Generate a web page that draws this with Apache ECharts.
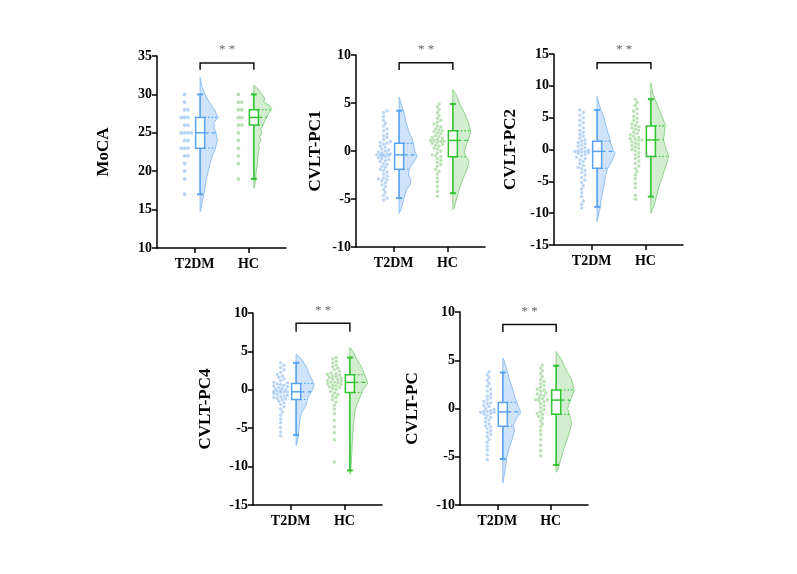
<!DOCTYPE html>
<html>
<head>
<meta charset="utf-8">
<script src="https://cdn.jsdelivr.net/npm/echarts@6/dist/echarts.min.js"></script>
<style>
  html, body { margin: 0; background: #fff; }
  #chart { width: 797px; height: 574px; }
</style>
</head>
<body>
<div id="chart"></div>
<script>
// groups and panels
const groups = ['T2DM', 'HC'];
const panelNames = ['MoCA', 'CVLT-PC1', 'CVLT-PC2', 'CVLT-PC4', 'CVLT-PC'];
const yMin = [10, -10, -15, -15, -10];
const yMax = [35, 10, 15, 10, 10];

// box stats [min, q1, median, q3, max]
const boxT2DM = [[17, 23, 25, 27, 30], [-4.9, -1.9, -0.4, 0.8, 4.2], [-9.0, -2.95, -0.3, 1.3, 6.2], [-5.9, -1.26, -0.26, 0.83, 3.5], [-5.23, -1.85, -0.35, 0.63, 3.73]];
const boxHC = [[19, 26, 27, 28, 30], [-4.4, -0.6, 1.1, 2.1, 4.9], [-7.4, -1.1, 1.5, 3.7, 7.9], [-10.5, -0.35, 0.96, 1.96, 4.2], [-5.85, -0.6, 0.87, 1.92, 4.43]];

// significance bracket [top, leg end]
const sigBracket = [[34.1, 33.2], [9.2, 8.44], [13.63, 12.6], [8.66, 7.56], [8.71, 7.94]];
const sigLabel = '* *';

// half violin shapes [value, relative density]
const violinT2DM = [
  [[32.2,0],[31,0.1],[30,0.28],[29,0.5],[28,0.8],[27,1.0],[26.3,0.75],[25.5,0.8],[25,0.88],[24,0.95],[23,0.85],[22,0.68],[21,0.55],[20,0.45],[19,0.35],[18,0.28],[17,0.2],[16,0.12],[15,0.04],[14.7,0]],
  [[5.6,0],[5,0.1],[4,0.27],[3,0.38],[2,0.55],[1,0.77],[0,0.87],[-0.5,1.0],[-1,0.87],[-1.5,0.67],[-2,0.54],[-2.5,0.52],[-3,0.66],[-3.5,0.62],[-4,0.42],[-5,0.25],[-6,0.12],[-6.5,0]],
  [[8.3,0],[7,0.12],[6,0.25],[5,0.38],[3,0.56],[2,0.68],[1,0.76],[0,0.87],[-0.5,1.0],[-1,0.95],[-2,0.78],[-3,0.58],[-4,0.48],[-5,0.42],[-6,0.35],[-7,0.28],[-8,0.22],[-9,0.18],[-10,0.1],[-11.3,0]],
  [[4.65,0],[4,0.3],[3,0.56],[2,0.74],[1,0.95],[0.7,1.0],[0,0.91],[-1,0.65],[-1.5,0.6],[-2,0.56],[-3,0.3],[-4,0.21],[-5,0.16],[-6,0.12],[-7,0.05],[-7.3,0]],
  [[5.2,0],[5,0.07],[4,0.22],[3,0.37],[2,0.55],[1,0.7],[0,0.91],[-0.4,1.0],[-1,0.77],[-1.7,0.58],[-2.3,0.64],[-3,0.55],[-4,0.37],[-5,0.22],[-6,0.15],[-7,0.07],[-7.7,0]]
];
const violinHC = [
  [[31.2,0],[30.5,0.3],[30,0.45],[29.5,0.6],[29,0.55],[28.5,0.9],[28,1.0],[27.5,0.8],[27,0.72],[26.5,0.6],[26,0.5],[25.5,0.38],[25,0.45],[24.5,0.32],[24,0.38],[23.5,0.26],[23,0.3],[22,0.22],[21,0.2],[20,0.13],[19,0.1],[18,0.04],[17.8,0]],
  [[6.4,0],[6,0.15],[5,0.36],[4,0.63],[3,0.86],[2,1.0],[1,0.82],[0,0.63],[-0.5,0.7],[-1,0.9],[-1.5,0.85],[-2,0.76],[-3,0.54],[-4,0.35],[-5,0.2],[-6,0.06],[-6.1,0]],
  [[10.4,0],[8.8,0.1],[6.7,0.4],[5,0.65],[3.85,0.8],[2.5,0.75],[1.5,0.7],[0,0.85],[-1.1,1.0],[-2.5,0.85],[-3.7,0.7],[-5,0.55],[-6.4,0.4],[-8,0.25],[-9,0.16],[-10,0]],
  [[5.5,0],[5,0.18],[4,0.37],[3,0.64],[2,0.82],[1,0.98],[0.9,1.0],[0,0.73],[-1,0.55],[-2,0.37],[-3,0.27],[-4,0.22],[-5,0.18],[-7,0.13],[-9,0.09],[-10.5,0.05],[-11,0]],
  [[5.9,0],[5,0.31],[4,0.55],[3,0.86],[1.9,1.0],[1,0.82],[0,0.64],[-0.6,0.73],[-1.5,0.86],[-2.5,0.73],[-3.5,0.55],[-4.5,0.37],[-5.5,0.22],[-6.3,0.09],[-6.6,0]]
];

// individual points
const mocaLevels = [30, 29, 28, 27, 26, 25, 24, 23, 22, 21, 20, 19, 18, 17];
const mocaT2DMCounts = [1, 1, 2, 3, 2, 4, 2, 3, 2, 1, 1, 1, 0, 1];
const mocaHCCounts = [1, 2, 2, 2, 2, 1, 1, 1, 1, 1, 0, 1, 0, 0];
const pc1T2DM = [4.2,4.0,3.6,3.2,2.9,2.6,2.3,2.1,1.8,1.6,1.4,1.2,1.0,0.9,0.8,0.7,0.5,0.4,0.2,0.1,0.0,-0.1,-0.2,-0.3,-0.3,-0.4,-0.4,-0.4,-0.5,-0.5,-0.6,-0.7,-0.8,-0.9,-1.0,-1.1,-1.3,-1.4,-1.6,-1.7,-1.9,-2.0,-2.2,-2.4,-2.6,-2.8,-2.9,-3.0,-3.1,-3.3,-3.5,-3.7,-4.0,-4.3,-4.6,-4.9,-5.1];
const pc1HC = [4.9,4.6,4.3,4.0,3.7,3.4,3.2,3.0,2.8,2.6,2.5,2.3,2.2,2.1,2.0,1.9,1.8,1.6,1.5,1.4,1.3,1.2,1.1,1.1,1.0,1.0,0.9,0.8,0.7,0.6,0.5,0.3,0.2,0.0,-0.2,-0.4,-0.5,-0.6,-0.8,-1.0,-1.2,-1.4,-1.6,-1.9,-2.1,-2.4,-2.8,-3.2,-3.7,-4.2,-4.7];
const pc2T2DM = [6.2,5.8,5.4,5.0,4.6,4.2,3.8,3.4,3.0,2.7,2.4,2.1,1.8,1.5,1.3,1.1,0.9,0.7,0.5,0.3,0.1,-0.1,-0.2,-0.3,-0.3,-0.4,-0.5,-0.6,-0.8,-1.0,-1.2,-1.4,-1.6,-1.9,-2.2,-2.5,-2.8,-3.0,-3.3,-3.6,-4.0,-4.4,-4.8,-5.2,-5.7,-6.2,-6.8,-7.4,-8.1,-8.6,-9.2];
const pc2HC = [7.9,7.4,6.9,6.4,6.0,5.6,5.2,4.9,4.6,4.3,4.0,3.8,3.6,3.4,3.2,3.0,2.7,2.5,2.3,2.1,1.9,1.7,1.6,1.5,1.4,1.2,1.0,0.8,0.6,0.4,0.2,0.0,-0.2,-0.5,-0.8,-1.1,-1.4,-1.8,-2.2,-2.6,-3.0,-3.5,-4.0,-4.6,-5.3,-6.0,-7.2,-7.8];
const pc4T2DM = [3.5,3.2,2.9,2.6,2.3,2.0,1.8,1.6,1.4,1.2,1.0,0.9,0.8,0.7,0.6,0.5,0.4,0.3,0.2,0.1,0.0,-0.1,-0.2,-0.2,-0.3,-0.3,-0.4,-0.5,-0.6,-0.7,-0.8,-0.9,-1.0,-1.1,-1.2,-1.3,-1.5,-1.7,-1.9,-2.2,-2.5,-2.9,-3.3,-3.8,-4.3,-4.9,-5.5,-6.0];
const pc4HC = [4.2,4.0,3.7,3.5,3.2,3.0,2.8,2.6,2.4,2.2,2.1,2.0,1.9,1.8,1.7,1.6,1.5,1.4,1.3,1.2,1.1,1.0,1.0,0.9,0.8,0.7,0.6,0.5,0.4,0.3,0.2,0.0,-0.2,-0.4,-0.6,-0.8,-1.0,-1.3,-1.6,-2.0,-2.5,-3.1,-4.0,-4.8,-5.6,-6.5,-9.4];
const pcT2DM = [3.8,3.5,3.2,2.9,2.6,2.3,2.0,1.8,1.5,1.3,1.1,0.9,0.7,0.6,0.5,0.3,0.2,0.0,-0.1,-0.2,-0.3,-0.3,-0.4,-0.4,-0.5,-0.6,-0.7,-0.9,-1.0,-1.2,-1.4,-1.6,-1.8,-1.9,-2.1,-2.3,-2.5,-2.7,-2.9,-3.2,-3.5,-3.9,-4.3,-4.8,-5.3];
const pcHC = [4.5,4.2,3.9,3.6,3.3,3.0,2.8,2.6,2.4,2.2,2.0,1.9,1.8,1.6,1.5,1.4,1.3,1.1,1.0,0.9,0.9,0.8,0.7,0.5,0.3,0.1,-0.1,-0.3,-0.5,-0.6,-0.8,-1.0,-1.3,-1.6,-1.9,-2.3,-2.7,-3.2,-3.8,-4.4,-4.9];

function expandCounts(levels, counts) {
  let out = [];
  levels.forEach((v, i) => { for (let k = 0; k < counts[i]; k++) out.push(v); });
  return out;
}
const pointsT2DM = [expandCounts(mocaLevels, mocaT2DMCounts), pc1T2DM, pc2T2DM, pc4T2DM, pcT2DM];
const pointsHC = [expandCounts(mocaLevels, mocaHCCounts), pc1HC, pc2HC, pc4HC, pcHC];

// layout and style
const layout = [[157, 56, 129, 192], [356, 55, 129, 192], [554, 54, 129, 191], [253, 313, 129, 192], [460, 312, 128, 193]];
const nameGaps = [45, 32, 35, 39, 39];
const serif = 'Liberation Serif';
const colBlue = { line: '#56a3f3', fill: 'rgba(160,200,245,0.5)', edge: '#92c0f2', point: 'rgba(140,185,240,0.6)' };
const colGreen = { line: '#2ec42e', fill: 'rgba(165,220,160,0.5)', edge: '#8fd38a', point: 'rgba(140,205,130,0.6)' };
const boxShift = 5.5, pointShift = -10, violinW = 18, boxW = 9, dotD = 3.4, swarmMax = 7;

// capped beeswarm offsets (px): spread points in a narrow column
function swarm(values, pxPerUnit) {
  let placed = [];
  let out = [];
  let cands = [0];
  for (let k = 1; k * dotD / 2 <= swarmMax; k++) { cands.push(k * dotD / 2, -k * dotD / 2); }
  values.slice().sort((a, b) => a - b).forEach(v => {
    const y = v * pxPerUnit;
    let best = 0, bestD = -1;
    for (const c of cands) {
      let dmin = Infinity;
      placed.forEach(q => { dmin = Math.min(dmin, Math.hypot(q[0] - c, q[1] - y)); });
      if (dmin >= dotD * 0.95) { best = c; bestD = dmin; break; }
      if (dmin > bestD) { bestD = dmin; best = c; }
    }
    placed.push([best, y]);
    out.push([v, best]);
  });
  return out;
}

function densityAt(dens, v) {
  for (let k = 0; k < dens.length - 1; k++) {
    const a = dens[k], b = dens[k + 1];
    if (v <= a[0] && v >= b[0]) {
      const t = (a[0] - v) / (a[0] - b[0]);
      return a[1] + (b[1] - a[1]) * t;
    }
  }
  return 0;
}

function renderViolin(pi) {
  return function (params, api) {
    const gi = api.value(2);
    const dens = (gi === 0 ? violinT2DM : violinHC)[pi];
    const col = gi === 0 ? colBlue : colGreen;
    const cx = api.coord([api.value(0), dens[0][0]])[0] + boxShift;
    let pts = [[cx, api.coord([1, dens[0][0]])[1]]];
    dens.forEach(d => pts.push([cx + d[1] * violinW, api.coord([1, d[0]])[1]]));
    pts.push([cx, api.coord([1, dens[dens.length - 1][0]])[1]]);
    return {
      type: 'polygon',
      shape: { points: pts },
      style: { fill: col.fill, stroke: col.edge, lineWidth: 1 }
    };
  };
}

function renderPoints(pi) {
  return function (params, api) {
    const gi = api.value(2);
    const col = gi === 0 ? colBlue : colGreen;
    const p = api.coord([api.value(0), api.value(1)]);
    return {
      type: 'circle',
      shape: { cx: p[0] + pointShift + api.value(3), cy: p[1], r: pi === 0 ? 1.9 : 1.7 },
      style: { fill: col.point }
    };
  };
}

function renderBox(pi) {
  return function (params, api) {
    const gi = api.value(2);
    const s = (gi === 0 ? boxT2DM : boxHC)[pi];
    const dens = (gi === 0 ? violinT2DM : violinHC)[pi];
    const col = gi === 0 ? colBlue : colGreen;
    const cx = api.coord([api.value(0), s[2]])[0] + boxShift;
    const y = v => api.coord([1, v])[1];
    const st = { stroke: col.line, lineWidth: 1.5 };
    let children = [
      { type: 'line', shape: { x1: cx, y1: y(s[4]), x2: cx, y2: y(s[3]) }, style: st },
      { type: 'line', shape: { x1: cx, y1: y(s[1]), x2: cx, y2: y(s[0]) }, style: st },
      { type: 'line', shape: { x1: cx - 3, y1: y(s[4]), x2: cx + 3, y2: y(s[4]) }, style: { stroke: col.line, lineWidth: 2 } },
      { type: 'line', shape: { x1: cx - 3, y1: y(s[0]), x2: cx + 3, y2: y(s[0]) }, style: { stroke: col.line, lineWidth: 2 } }
    ];
    [[s[1], [1.5, 2]], [s[2], [4, 3]], [s[3], [1.5, 2]]].forEach(([v, dash]) => {
      children.push({
        type: 'line',
        shape: { x1: cx + boxW / 2, y1: y(v), x2: cx + densityAt(dens, v) * violinW, y2: y(v) },
        style: { stroke: col.line, lineWidth: 1.2, lineDash: dash }
      });
    });
    children.push({ type: 'rect', shape: { x: cx - boxW / 2, y: y(s[3]), width: boxW, height: y(s[1]) - y(s[3]) }, style: { fill: '#fff', stroke: col.line, lineWidth: 1.5 } });
    children.push({ type: 'line', shape: { x1: cx - boxW / 2, y1: y(s[2]), x2: cx + boxW / 2, y2: y(s[2]) }, style: st });
    return { type: 'group', children: children };
  };
}

function renderSig(pi) {
  return function (params, api) {
    const top = sigBracket[pi][0], leg = sigBracket[pi][1];
    const a = api.coord([1, top]), b = api.coord([2, top]);
    const x1 = a[0] + boxShift, x2 = b[0] + boxShift;
    const yl = api.coord([1, leg])[1];
    return {
      type: 'group',
      children: [
        { type: 'polyline', shape: { points: [[x1, yl], [x1, a[1]], [x2, a[1]], [x2, yl]] }, style: { stroke: '#111', lineWidth: 1.5, fill: null } },
        { type: 'text', x: (x1 + x2) / 2, y: a[1] - 13, style: { text: sigLabel, fill: '#666', fontSize: 13, fontFamily: serif, align: 'center', verticalAlign: 'middle' } }
      ]
    };
  };
}

const axisStyle = { color: '#000', width: 1.5 };
const labelStyle = { fontFamily: serif, fontWeight: 'bold', fontSize: 14, color: '#000' };

let grids = [], xAxes = [], yAxes = [], series = [];
panelNames.forEach((name, pi) => {
  const L = layout[pi];
  grids.push({ left: L[0], top: L[1], width: L[2], height: L[3] });
  xAxes.push({
    gridIndex: pi, type: 'value', min: 0.3, max: 2.7,
    axisLine: { show: true, onZero: false, lineStyle: axisStyle },
    axisTick: { show: true, customValues: [1, 2], length: 5, lineStyle: axisStyle },
    axisLabel: Object.assign({ customValues: [1, 2], margin: 9, formatter: v => groups[Math.round(v) - 1] }, labelStyle),
    splitLine: { show: false }
  });
  yAxes.push({
    gridIndex: pi, type: 'value', min: yMin[pi], max: yMax[pi], interval: 5,
    name: name, nameLocation: 'middle', nameGap: nameGaps[pi],
    nameTextStyle: { fontFamily: serif, fontWeight: 'bold', fontSize: 17, color: '#000' },
    axisLine: { show: true, onZero: false, lineStyle: axisStyle },
    axisTick: { show: true, length: 5, lineStyle: axisStyle },
    axisLabel: Object.assign({ margin: 5 }, labelStyle),
    splitLine: { show: false }
  });

  const pxPerUnit = L[3] / (yMax[pi] - yMin[pi]);
  const med = [boxT2DM[pi][2], boxHC[pi][2]];
  series.push({
    type: 'custom', xAxisIndex: pi, yAxisIndex: pi, renderItem: renderViolin(pi),
    encode: { x: 0, y: 1 }, data: [[1, med[0], 0], [2, med[1], 1]], silent: true
  });
  let pts = [];
  swarm(pointsT2DM[pi], pxPerUnit).forEach(p => pts.push([1, p[0], 0, p[1]]));
  swarm(pointsHC[pi], pxPerUnit).forEach(p => pts.push([2, p[0], 1, p[1]]));
  series.push({
    type: 'custom', xAxisIndex: pi, yAxisIndex: pi, renderItem: renderPoints(pi),
    encode: { x: 0, y: 1 }, data: pts, silent: true
  });
  series.push({
    type: 'custom', xAxisIndex: pi, yAxisIndex: pi, renderItem: renderBox(pi),
    encode: { x: 0, y: 1 }, data: [[1, med[0], 0], [2, med[1], 1]], silent: true
  });
  series.push({
    type: 'custom', xAxisIndex: pi, yAxisIndex: pi, renderItem: renderSig(pi),
    encode: { x: 0, y: 1 }, data: [[1.5, sigBracket[pi][0]]], silent: true, clip: false
  });
});

const chart = echarts.init(document.getElementById('chart'));
chart.setOption({
  animation: false,
  backgroundColor: '#fff',
  grid: grids,
  xAxis: xAxes,
  yAxis: yAxes,
  series: series
});
</script>
</body>
</html>
